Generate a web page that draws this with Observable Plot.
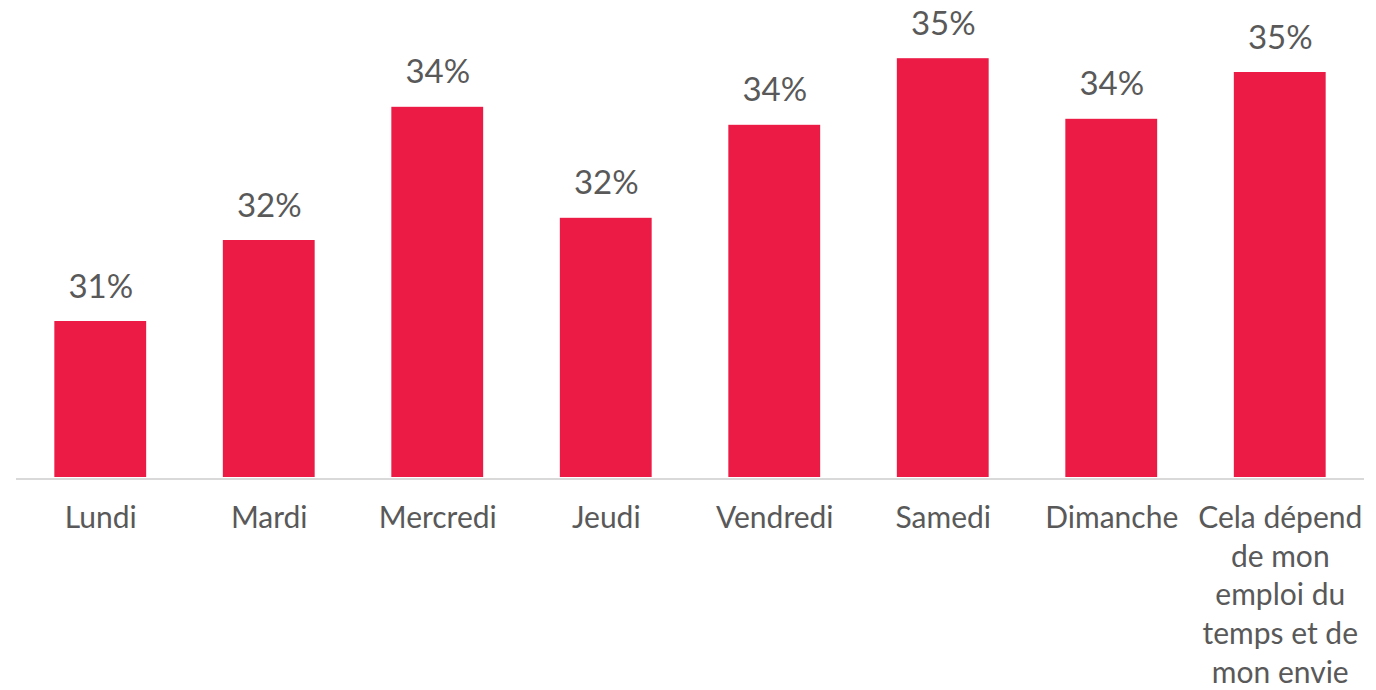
<!DOCTYPE html>
<html>
<head>
<meta charset="utf-8">
<script src="https://cdn.jsdelivr.net/npm/d3@7"></script>
<script src="https://cdn.jsdelivr.net/npm/@observablehq/plot@0.6"></script>
<style>
  html, body { margin: 0; padding: 0; background: #ffffff; }
  #chart { width: 1376px; height: 690px; overflow: hidden; }
</style>
</head>
<body>
<div id="chart"></div>
<script>
const categories = ["Lundi", "Mardi", "Mercredi", "Jeudi", "Vendredi", "Samedi", "Dimanche", "Cela dépend\nde mon\nemploi du\ntemps et de\nmon envie"];
const values = [30.6, 31.95, 34.17, 32.32, 33.87, 34.98, 33.97, 34.75];
const valueLabels = ["31%", "32%", "34%", "32%", "34%", "35%", "34%", "35%"];
const yMin = 28;

const data = categories.map((c, i) => ({category: c, value: values[i], label: valueLabels[i]}));

const font = "Lato, 'Open Sans', sans-serif";

const chart = Plot.plot({
  width: 1376,
  height: 690,
  marginLeft: 16,
  marginRight: 12,
  marginTop: 0,
  marginBottom: 0,
  style: {fontFamily: font, background: "#ffffff", overflow: "visible"},
  x: {domain: categories, range: [16, 1364], paddingInner: 0.455, paddingOuter: 0.2275, round: false, axis: null},
  y: {domain: [yMin, 35.95], range: [477, 0], axis: null},
  marks: [
    Plot.barY(data, {x: "category", y1: yMin, y2: "value", fill: "#EC1B45"}),
    Plot.ruleY([yMin], {stroke: "#d9d9d9", strokeWidth: 2, dy: 1.5}),
    Plot.text(data, {x: "category", y: "value", text: "label", lineAnchor: "bottom", dy: -24, fontSize: 33, fill: "#595959"}),
    Plot.text(data, {x: "category", y: yMin, text: "category", lineAnchor: "top", dy: 23, fontSize: 30, lineHeight: 1.29, fill: "#595959"})
  ]
});

document.getElementById("chart").appendChild(chart);
</script>
</body>
</html>
